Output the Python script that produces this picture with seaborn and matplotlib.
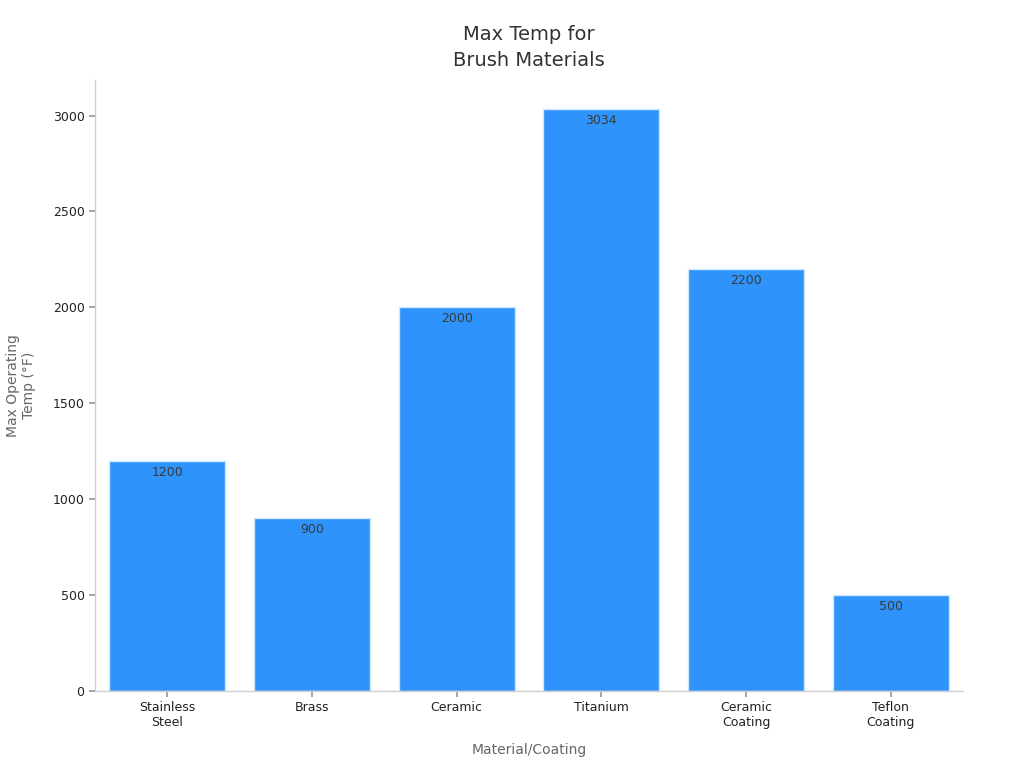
import pandas as pd
import matplotlib
matplotlib.use('Agg')
import matplotlib.pyplot as plt
import seaborn as sns

# chart data
materials = ['Stainless\nSteel', 'Brass', 'Ceramic', 'Titanium', 'Ceramic\nCoating', 'Teflon\nCoating']
max_temps = [1200, 900, 2000, 3034, 2200, 500]

df = pd.DataFrame({'Material': materials, 'Temp': max_temps})

sns.set_theme(style='white')
plt.rcParams['font.family'] = ['DejaVu Sans']

fig = plt.figure(figsize=(10.24, 7.68), dpi=100)
ax = fig.add_axes([0.0928, 0.1003, 0.8476, 0.7957])

sns.barplot(data=df, x='Material', y='Temp', color='#2E93FA', saturation=1,
            width=0.8, edgecolor='#CFE6FE', linewidth=1, ax=ax)

for i, v in enumerate(max_temps):
    ax.text(i, v - 25, str(v), ha='center', va='top', fontsize=9, color='#3a3a3a')

ax.set_xlim(-0.5, 5.5)
ax.set_ylim(0, 3186)
ax.set_yticks([0, 500, 1000, 1500, 2000, 2500, 3000])

for s in ['top', 'right']:
    ax.spines[s].set_visible(False)
for s in ['left', 'bottom']:
    ax.spines[s].set_color('#d0d0d0')
    ax.spines[s].set_linewidth(1)

ax.tick_params(axis='both', which='both', length=4, color='#999999', labelsize=9,
               labelcolor='#222222', bottom=True, left=True)

ax.set_xlabel('Material/Coating', fontsize=10, color='#666666', labelpad=10)
ax.set_ylabel('Max Operating\nTemp (°F)', fontsize=10, color='#666666', labelpad=12)
ax.set_title('Max Temp for\nBrush Materials', fontsize=14, color='#333333', pad=10,
             linespacing=1.45)

fig.savefig('out.png', dpi=100)
